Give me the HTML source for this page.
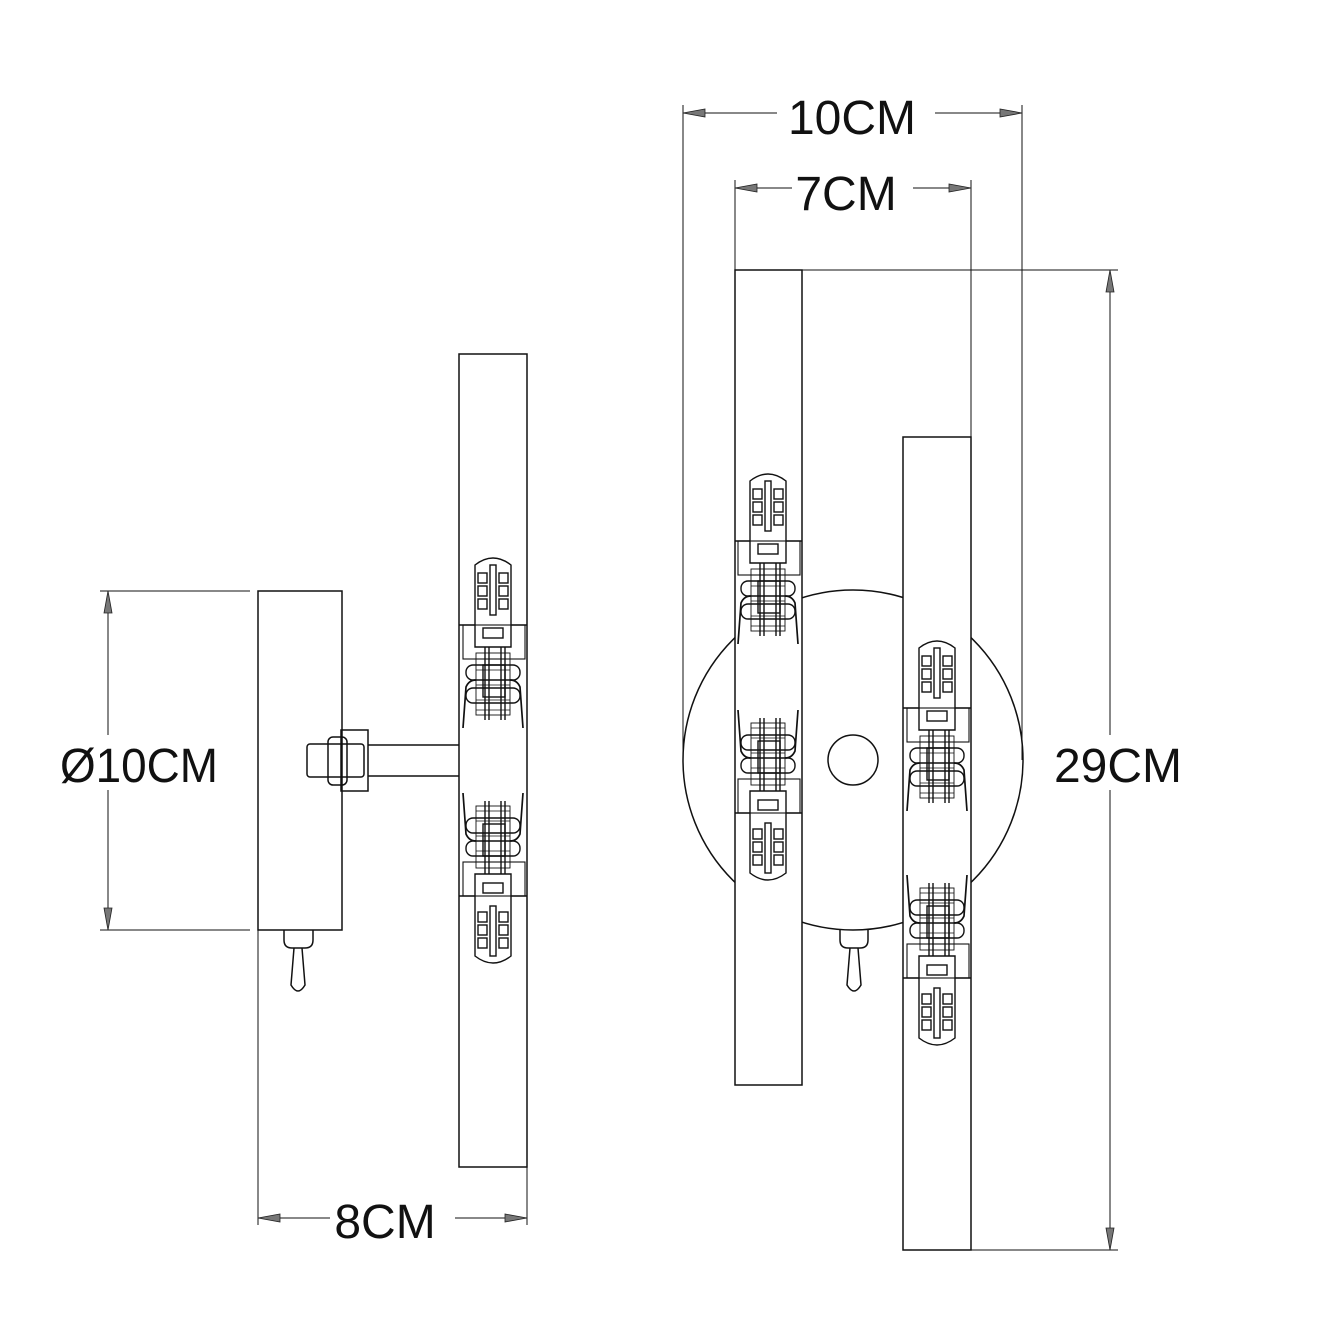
<!DOCTYPE html>
<html><head><meta charset="utf-8"><style>html,body{margin:0;padding:0;background:#fff}svg{display:block}</style></head>
<body>
<svg width="1333" height="1333" viewBox="0 0 1333 1333" xmlns="http://www.w3.org/2000/svg" font-family="Liberation Sans, sans-serif">
<defs>
<g id="bulb" fill="none" stroke="#111" stroke-width="1.4">
  <path d="M-18,22 V-60 Q0,-74 18,-60 V22 Z" fill="#fff"/>
  <rect x="-3" y="-60" width="6" height="50"/>
  <rect x="-15" y="-52" width="9" height="10"/><rect x="-15" y="-39" width="9" height="10"/><rect x="-15" y="-26" width="9" height="10"/>
  <rect x="6" y="-52" width="9" height="10"/><rect x="6" y="-39" width="9" height="10"/><rect x="6" y="-26" width="9" height="10"/>
  <rect x="-10" y="3" width="20" height="10"/>
  <rect x="-30" y="0" width="62" height="34" stroke-width="1.1"/>
  <rect x="-17" y="28" width="34" height="62" stroke-width="0.9"/>
  <rect x="-10" y="40" width="22" height="32"/>
  <path d="M-8,22V95 M-4,22V95 M8,22V95 M12,22V95" />
  <path d="M-17,45H17 M-17,60H17 M-17,75H17 M-17,85H17" stroke-width="0.8"/>
  <rect x="-27" y="40" width="54" height="15" rx="7"/>
  <rect x="-27" y="63" width="54" height="15" rx="7"/>
  <path d="M-30,103 L-27,62 Q-24,55 -17,55 M30,103 L27,62 Q24,55 17,55" stroke-width="1.7"/>
</g>
<g id="tri"><path d="M0,0 L22,-4 L22,4 Z" fill="#777" stroke="#222" stroke-width="0.8"/></g>
</defs>
<g fill="none" stroke="#111" stroke-width="1.5">
<rect x="258" y="591" width="84" height="339"/>
<path d="M100,591H250 M100,930H250" stroke-width="1"/>
<path d="M108,591V930" stroke-width="1"/>
<rect x="341" y="730" width="27" height="61"/>
<path d="M368,745H459 M368,776H459"/>
<rect x="307" y="744" width="57" height="33" rx="3"/>
<rect x="328" y="737" width="19" height="48" rx="5"/>
<rect x="459" y="354" width="68" height="813"/>
<path d="M459,625H527 M459,896H527"/>
<g transform="translate(493,625)"><use href="#bulb"/></g>
<g transform="translate(493,896) scale(1,-1)"><use href="#bulb"/></g>
<path d="M284,930 V940 Q284,948 292,948 H305 Q313,948 313,940 V930"/>
<path d="M294,948 L291,985 Q298,997 305,985 L302,948"/>
<path d="M258,930V1225 M527,1167V1225" stroke-width="1"/>
<path d="M258,1218H330 M455,1218H527" stroke-width="1"/>
<circle cx="853" cy="760" r="170"/>
<circle cx="853" cy="760" r="25"/>
<rect x="735" y="270" width="67" height="815" fill="#fff"/>
<rect x="903" y="437" width="68" height="813" fill="#fff"/>
<path d="M735,541H802 M735,813H802 M903,708H971 M903,978H971"/>
<g transform="translate(768,541)"><use href="#bulb"/></g>
<g transform="translate(768,813) scale(1,-1)"><use href="#bulb"/></g>
<g transform="translate(937,708)"><use href="#bulb"/></g>
<g transform="translate(937,978) scale(1,-1)"><use href="#bulb"/></g>
<path d="M840,930 V940 Q840,948 848,948 H860 Q868,948 868,940 V930"/>
<path d="M850,948 L847,985 Q854,997 861,985 L858,948"/>
<path d="M683,105V760 M1022,105V760 M735,180V270 M971,180V437" stroke-width="1"/>
<path d="M683,113H777 M935,113H1022 M735,188H792 M913,188H971" stroke-width="1"/>
<path d="M802,270H1118 M971,1250H1118 M1110,270V1250" stroke-width="1"/>
</g>
<use href="#tri" transform="translate(108,591) rotate(90)"/>
<use href="#tri" transform="translate(108,930) rotate(-90)"/>
<use href="#tri" transform="translate(258,1218)"/>
<use href="#tri" transform="translate(527,1218) rotate(180)"/>
<use href="#tri" transform="translate(683,113)"/>
<use href="#tri" transform="translate(1022,113) rotate(180)"/>
<use href="#tri" transform="translate(735,188)"/>
<use href="#tri" transform="translate(971,188) rotate(180)"/>
<use href="#tri" transform="translate(1110,270) rotate(90)"/>
<use href="#tri" transform="translate(1110,1250) rotate(-90)"/>
<g fill="#111" font-size="48">
<rect x="58" y="735" width="162" height="55" fill="#fff"/>
<text x="139" y="782" text-anchor="middle" textLength="158" lengthAdjust="spacingAndGlyphs">Ø10CM</text>
<text x="385" y="1238" text-anchor="middle">8CM</text>
<text x="852" y="134" text-anchor="middle">10CM</text>
<text x="846" y="210" text-anchor="middle">7CM</text>
<rect x="1055" y="735" width="127" height="55" fill="#fff"/>
<text x="1118" y="782" text-anchor="middle">29CM</text>
</g>
</svg>
</body></html>
